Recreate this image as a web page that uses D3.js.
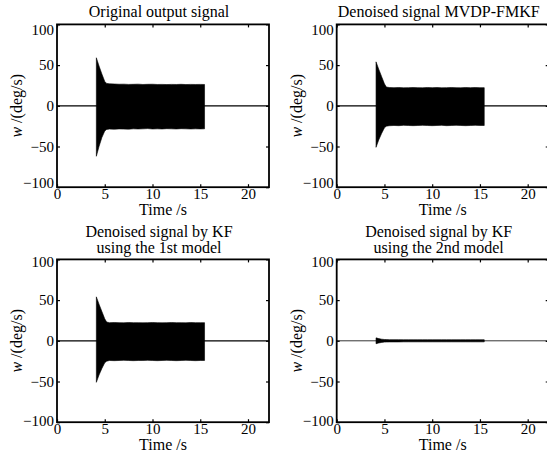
<!DOCTYPE html>
<html>
<head>
<meta charset="utf-8">
<script src="https://cdn.jsdelivr.net/npm/d3@7"></script>
<style>
  html, body { margin: 0; padding: 0; background: #fff; }
  svg { display: block; }
  text { font-family: "Liberation Serif", "Times New Roman", serif; fill: #000; }
</style>
</head>
<body>
<svg id="chart" width="547" height="461"></svg>
<script>
// tick values
const timeTicks = [0, 5, 10, 15, 20];
const valueTicks = [-100, -50, 0, 50, 100];

// panel titles
const titles = [
    ["Original output signal"],
    ["Denoised signal MVDP-FMKF"],
    ["Denoised signal by KF", "using the 1st model"],
    ["Denoised signal by KF", "using the 2nd model"]
];

// sample times of the oscillation envelope (s)
const envTime = [4.12, 4.4, 4.7, 5.0, 5.2, 5.5, 6.0, 6.5, 7.0, 7.5, 8.0, 8.5, 9.0, 9.5,
    10.0, 10.5, 11.0, 11.5, 12.0, 12.5, 13.0, 13.5, 14.0, 14.5, 15.0, 15.45];

// envelope of the original output signal
const origUpper = [59, 49, 39, 30, 27.5, 27, 26.8, 26.5, 26.6, 26.3, 26.4, 26.6, 26.2, 26.4,
    26.5, 26.2, 26.3, 26.1, 26.3, 26.2, 26.4, 26.1, 26.3, 26.2, 26.3, 26.2];
const origLower = [-62, -50, -39, -31, -29, -28.6, -28.8, -28.4, -28.6, -28.7, -28.3, -28.5, -28.3, -28,
    -28.5, -28.3, -28.5, -28.1, -28.3, -28.5, -28.1, -28.3, -28.5, -28.3, -28.4, -28.3];

// envelope after MVDP-FMKF
const mvdpUpper = [54, 45, 36, 27, 23, 22.5, 22.3, 22.5, 22.1, 22.3, 22.5, 22.3, 22.1, 22.5,
    22.3, 22.5, 22.1, 22.3, 22.5, 22.3, 22.1, 22.5, 22.3, 22.5, 22.3, 22.3];
const mvdpLower = [-51, -42, -34, -27, -25, -24.5, -24.2, -24.4, -24, -24.2, -24.4, -24.2, -24, -24.2,
    -24.4, -24.2, -24, -24.4, -24.2, -24, -24.2, -24.4, -24.2, -24, -24.2, -24.2];

// envelope after KF, 1st model
const kf1Upper = [54, 45, 36, 27, 23, 22.3, 22.5, 22.3, 22.1, 22.5, 22.3, 22.3, 22.1, 22.3,
    22.5, 22.3, 22.1, 22.3, 22.5, 22.3, 22.3, 22.1, 22.5, 22.3, 22.3, 22.3];
const kf1Lower = [-51, -42, -34, -27, -25, -24.2, -24.4, -24.2, -24, -24.2, -24.4, -24.2, -24.2, -24,
    -24.2, -24.4, -24.2, -24, -24.2, -24.4, -24.2, -24, -24.2, -24.4, -24.2, -24.2];

// envelope after KF, 2nd model
const kf2Upper = [3.6, 2.7, 2.0, 1.6, 1.5, 1.4, 1.4, 1.4, 1.3, 1.3, 1.3, 1.3, 1.3, 1.3,
    1.3, 1.3, 1.3, 1.3, 1.3, 1.3, 1.3, 1.3, 1.3, 1.3, 1.3, 1.3];
const kf2Lower = [-3.6, -2.7, -2.0, -1.6, -1.5, -1.4, -1.4, -1.4, -1.3, -1.3, -1.3, -1.3, -1.3, -1.3,
    -1.3, -1.3, -1.3, -1.3, -1.3, -1.3, -1.3, -1.3, -1.3, -1.3, -1.3, -1.3];

const upperSets = [origUpper, mvdpUpper, kf1Upper, kf2Upper];
const lowerSets = [origLower, mvdpLower, kf1Lower, kf2Lower];

const svg = d3.select("#chart");
const colX = [57, 336.7];
const rowY = [24.4, 259.4];
const plotW = 212;
const plotH = 162.8;
// label nudges at the ends of the value axis, per row
const endShift = [[5, -5], [2.5, -1.5]];

const x = d3.scaleLinear().domain([0, 22.2]).range([0, plotW]);
const y = d3.scaleLinear().domain([-100, 100]).range([plotH, 0]);

const area = d3.area()
    .x(d => x(d.t))
    .y0(d => y(d.lo))
    .y1(d => y(d.hi));

titles.forEach((title, i) => {
    const col = i % 2, row = Math.floor(i / 2);
    const g = svg.append("g")
        .attr("transform", `translate(${colX[col]},${rowY[row]})`);

    g.append("clipPath").attr("id", "clip" + i)
        .append("rect").attr("width", plotW).attr("height", plotH);

    const plot = g.append("g").attr("clip-path", `url(#clip${i})`);

    // zero line
    plot.append("line")
        .attr("x1", x(0)).attr("x2", x(22.2))
        .attr("y1", y(0)).attr("y2", y(0))
        .attr("stroke", "#000")
        .attr("stroke-width", i === 3 ? 0.8 : 1.3);

    // dense oscillation drawn as its envelope
    const env = envTime.map((t, k) => ({ t: t, hi: upperSets[i][k], lo: lowerSets[i][k] }));
    plot.append("path")
        .datum(env)
        .attr("d", area)
        .attr("fill", "#000")
        .attr("stroke", "#000")
        .attr("stroke-width", 0.6);

    // axes
    g.append("g")
        .attr("transform", `translate(0,${plotH})`)
        .call(d3.axisBottom(x).tickValues(timeTicks).tickSizeInner(-3).tickSizeOuter(0).tickPadding(1));
    g.append("g")
        .call(d3.axisTop(x).tickValues(timeTicks).tickSizeInner(-3).tickSizeOuter(0).tickFormat(""));
    const left = g.append("g")
        .call(d3.axisLeft(y).tickValues(valueTicks).tickSizeInner(-3).tickSizeOuter(0).tickPadding(3));
    g.append("g")
        .attr("transform", `translate(${plotW},0)`)
        .call(d3.axisRight(y).tickValues(valueTicks).tickSizeInner(-3).tickSizeOuter(0).tickFormat(""));

    g.selectAll(".domain").remove();
    g.selectAll(".tick line").attr("stroke", "#000").attr("stroke-width", 1.2);
    g.selectAll(".tick text")
        .attr("font-family", "'Liberation Serif', 'Times New Roman', serif")
        .attr("font-size", 15)
        .attr("fill", "#000");
    left.selectAll(".tick text")
        .attr("transform", d => d === 100 ? `translate(0,${endShift[row][0]})`
            : d === -100 ? `translate(0,${endShift[row][1]})` : null);

    // frame
    g.append("rect")
        .attr("width", plotW).attr("height", plotH)
        .attr("fill", "none")
        .attr("stroke", "#000")
        .attr("stroke-width", 1.8);

    // title
    const titleText = g.append("text")
        .attr("text-anchor", "middle")
        .attr("font-size", 16);
    title.forEach((line, k) => {
        titleText.append("tspan")
            .attr("x", plotW / 2 - 4)
            .attr("y", title.length === 1 ? -7 : -22 + k * 15.5)
            .text(line);
    });

    // x label
    g.append("text")
        .attr("x", plotW / 2)
        .attr("y", plotH + 28)
        .attr("text-anchor", "middle")
        .attr("font-size", 16)
        .text("Time /s");

    // y label
    const yl = g.append("text")
        .attr("transform", `translate(-35,${plotH / 2}) rotate(-90)`)
        .attr("text-anchor", "middle")
        .attr("font-size", 16);
    yl.append("tspan").attr("font-style", "italic").text("w");
    yl.append("tspan").text(" /(deg/s)");
});
</script>
</body>
</html>
